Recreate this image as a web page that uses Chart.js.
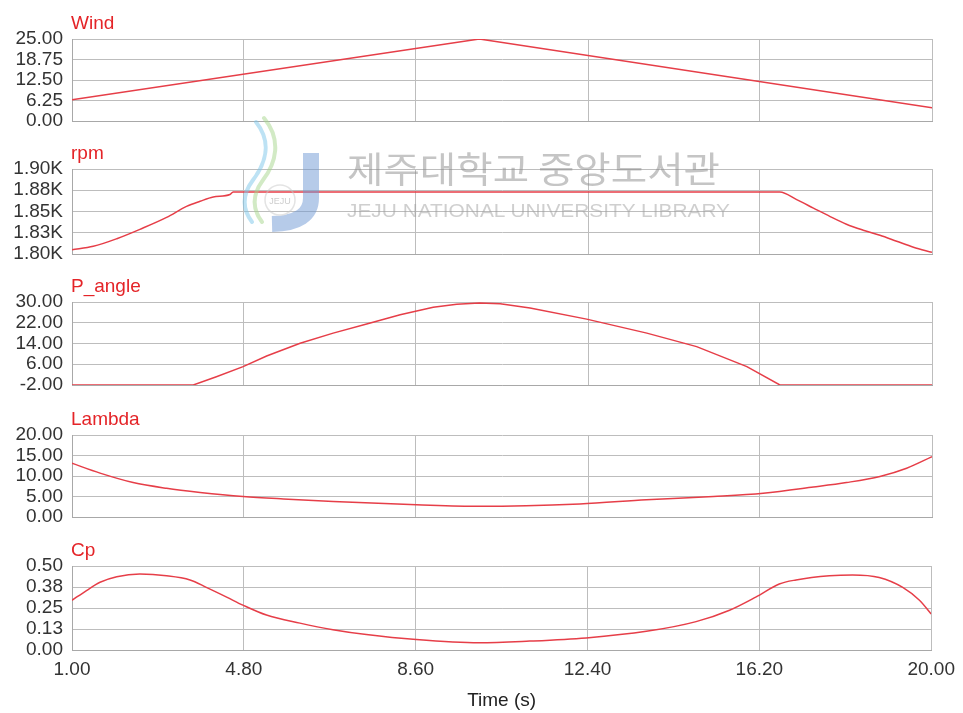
<!DOCTYPE html>
<html>
<head>
<meta charset="utf-8">
<script src="https://cdn.jsdelivr.net/npm/chart.js@4/dist/chart.umd.min.js"></script>
<style>
  html, body { margin: 0; padding: 0; background: #fff; }
  #wrap { position: relative; width: 963px; height: 713px; overflow: hidden; }
  #wrap canvas { position: absolute; left: 0; }
  #mark { position: absolute; left: 0; top: 0; pointer-events: none; }
</style>
</head>
<body>
<div id="wrap">
  <canvas id="c0"></canvas>
  <canvas id="c1"></canvas>
  <canvas id="c2"></canvas>
  <canvas id="c3"></canvas>
  <canvas id="c4"></canvas>
  <svg id="mark" width="963" height="713" xmlns="http://www.w3.org/2000/svg">
    <g opacity="0.5">
      <path d="M256,122 C272,142 266,163 253,180 C241,196 243,210 252,222" fill="none" stroke="#7cc6ea" stroke-width="4" stroke-linecap="round"/>
      <path d="M264,118 C282,140 276,163 263,180 C251,196 253,210 262,222" fill="none" stroke="#a6d68c" stroke-width="4" stroke-linecap="round"/>
      <path d="M311,153 L311,198 Q311,223 272,224" fill="none" stroke="#6f97d4" stroke-width="16"/>
      <circle cx="280" cy="200" r="15" fill="none" stroke="#c8c8c8" stroke-width="1.5"/>
      <text x="280" y="204" font-family="Liberation Sans, Arial, sans-serif" font-size="9" fill="#999" text-anchor="middle">JEJU</text>
      <text x="347" y="183" font-family="'Noto Sans CJK KR', sans-serif" font-size="36" fill="#8c8c8c" textLength="373" lengthAdjust="spacingAndGlyphs">제주대학교 중앙도서관</text>
      <text x="347" y="217" font-family="'Liberation Sans', Arial, sans-serif" font-size="19" fill="#a0a0a0" textLength="383" lengthAdjust="spacingAndGlyphs">JEJU NATIONAL UNIVERSITY  LIBRARY</text>
    </g>
  </svg>
</div>
<script>
// Shared time axis
const timeTicks = [1.0, 4.8, 8.6, 12.4, 16.2, 20.0];
const timeTickLabels = ['1.00', '4.80', '8.60', '12.40', '16.20', '20.00'];

// Wind speed
const windTime = [1, 10, 20];
const windSpeed = [6.5, 25, 4];
const windTicks = [0, 6.25, 12.5, 18.75, 25];
const windTickLabels = ['0.00', '6.25', '12.50', '18.75', '25.00'];

// Rotor speed
const rpmTime = [1, 1.47, 1.99, 2.50, 3.09, 3.53, 3.83, 4.12, 4.49, 4.56, 16.64, 17.01, 17.38, 17.75, 18.11, 18.48, 18.85, 19.22, 19.59, 20];
const rpmValues = [1805, 1809, 1818, 1829, 1843, 1856, 1862, 1867, 1870, 1873, 1873, 1864, 1854, 1844, 1835, 1828, 1822, 1815, 1808, 1802];
const rpmTicks = [1800, 1825, 1850, 1875, 1900];
const rpmTickLabels = ['1.80K', '1.83K', '1.85K', '1.88K', '1.90K'];

// Pitch angle
const pitchTime = [1, 3.68, 4.19, 4.78, 5.30, 6.04, 6.77, 7.51, 8.25, 8.98, 9.5, 10.0, 10.46, 11.12, 12.37, 13.70, 14.80, 15.91, 16.64, 20];
const pitchAngle = [-2, -2, 1.2, 5.1, 9.2, 14.1, 18.0, 21.5, 25.1, 28.0, 29.1, 29.6, 29.3, 27.7, 23.4, 18.0, 12.8, 5.1, -2, -2];
const pitchTicks = [-2, 6, 14, 22, 30];
const pitchTickLabels = ['-2.00', '6.00', '14.00', '22.00', '30.00'];

// Tip speed ratio
const lambdaTime = [1, 1.62, 2.35, 3.09, 3.83, 4.78, 5.67, 6.77, 8.61, 10.0, 12.22, 13.69, 15.17, 16.27, 17.38, 18.11, 18.85, 19.44, 20];
const lambdaValues = [13.1, 10.7, 8.4, 7.0, 6.0, 5.0, 4.4, 3.8, 3.0, 2.6, 3.2, 4.2, 5.0, 5.8, 7.3, 8.4, 9.9, 11.9, 14.7];
const lambdaTicks = [0, 5, 10, 15, 20];
const lambdaTickLabels = ['0.00', '5.00', '10.00', '15.00', '20.00'];

// Power coefficient
const cpTime = [1, 1.32, 1.62, 1.99, 2.50, 3.09, 3.61, 3.97, 4.42, 4.78, 5.30, 6.04, 6.77, 7.51, 8.61, 10.0, 11.12, 12.37, 13.70, 14.80, 15.54, 16.12, 16.64, 17.01, 17.75, 18.26, 18.85, 19.37, 19.74, 20];
const cpValues = [0.296, 0.354, 0.403, 0.436, 0.452, 0.442, 0.417, 0.373, 0.315, 0.267, 0.208, 0.160, 0.121, 0.092, 0.062, 0.043, 0.053, 0.072, 0.111, 0.169, 0.237, 0.315, 0.393, 0.417, 0.442, 0.447, 0.432, 0.373, 0.296, 0.214];
const cpTicks = [0, 0.125, 0.25, 0.375, 0.5];
const cpTickLabels = ['0.00', '0.13', '0.25', '0.38', '0.50'];

// smooth: monotone cubic through the samples; otherwise straight segments
const panels = [
  { id: 'c0', title: 'Wind',    t: windTime,   v: windSpeed,    ticks: windTicks,   labels: windTickLabels,   smooth: false },
  { id: 'c1', title: 'rpm',     t: rpmTime,    v: rpmValues,    ticks: rpmTicks,    labels: rpmTickLabels,    smooth: true },
  { id: 'c2', title: 'P_angle', t: pitchTime,  v: pitchAngle,   ticks: pitchTicks,  labels: pitchTickLabels,  smooth: false },
  { id: 'c3', title: 'Lambda',  t: lambdaTime, v: lambdaValues, ticks: lambdaTicks, labels: lambdaTickLabels, smooth: true },
  { id: 'c4', title: 'Cp',      t: cpTime,     v: cpValues,     ticks: cpTicks,     labels: cpTickLabels,     smooth: true }
];

// Plot-area frame of each strip (page pixels)
const frameTop = [39, 169, 302, 435, 566];
const frameBottom = [121, 254, 385, 517, 650];
const PAGE_H = 713;
const LEFT = 72, RIGHT_PAD = 31, TOP_PAD = 32, BOTTOM_PAD = 24;

const FONT = "'Liberation Sans', Arial, sans-serif";
const LINE_RED = 'rgb(230, 62, 72)';
const TITLE_RED = 'rgb(228, 36, 40)';
const GRID = '#bdbdbd';

// Draws the red series name just above the plot frame
const stripTitle = {
  id: 'stripTitle',
  afterDraw(chart, args, opts) {
    const { ctx, chartArea } = chart;
    ctx.save();
    ctx.font = '19px ' + FONT;
    ctx.fillStyle = TITLE_RED;
    ctx.textAlign = 'left';
    ctx.textBaseline = 'alphabetic';
    ctx.fillText(opts.text, chartArea.left - 1, chartArea.top - 10);
    ctx.restore();
  }
};

panels.forEach((p, i) => {
  const last = i === panels.length - 1;
  const canvas = document.getElementById(p.id);
  const top = frameTop[i] - TOP_PAD;
  const plotH = frameBottom[i] - frameTop[i];
  const bottomSpace = last ? PAGE_H - frameBottom[i] : BOTTOM_PAD;
  canvas.width = 963;
  canvas.height = TOP_PAD + plotH + bottomSpace;
  canvas.style.top = top + 'px';

  new Chart(canvas, {
    type: 'line',
    data: {
      datasets: [{
        data: p.t.map((t, k) => ({ x: t, y: p.v[k] })),
        borderColor: LINE_RED,
        borderWidth: 1.5,
        pointRadius: 0,
        tension: 0,
        cubicInterpolationMode: p.smooth ? 'monotone' : 'default',
        fill: false
      }]
    },
    options: {
      responsive: false,
      animation: false,
      events: [],
      layout: { padding: { top: TOP_PAD, right: RIGHT_PAD, bottom: last ? 0 : BOTTOM_PAD, left: 0 } },
      plugins: {
        legend: { display: false },
        tooltip: { enabled: false },
        stripTitle: { text: p.title }
      },
      scales: {
        x: {
          type: 'linear',
          min: timeTicks[0],
          max: timeTicks[timeTicks.length - 1],
          afterBuildTicks: (s) => { s.ticks = timeTicks.map(v => ({ value: v })); },
          afterFit: (s) => { s.height = last ? PAGE_H - frameBottom[i] : 0; },
          grid: { color: GRID, lineWidth: 1, drawTicks: false },
          border: { color: '#a8a8a8', width: 1 },
          ticks: {
            display: last,
            autoSkip: false,
            maxRotation: 0,
            padding: 8,
            color: '#333',
            font: { family: FONT, size: 19 },
            callback: (val, idx) => timeTickLabels[idx]
          },
          title: {
            display: last,
            text: 'Time (s)',
            color: '#222',
            font: { family: FONT, size: 19 },
            padding: { top: 0, bottom: 1 }
          }
        },
        y: {
          type: 'linear',
          min: p.ticks[0],
          max: p.ticks[p.ticks.length - 1],
          afterBuildTicks: (s) => { s.ticks = p.ticks.map(v => ({ value: v })); },
          afterFit: (s) => { s.width = LEFT; },
          grid: { color: GRID, lineWidth: 1, drawTicks: false },
          border: { color: '#a8a8a8', width: 1 },
          ticks: {
            autoSkip: false,
            padding: 9,
            color: '#333',
            font: { family: FONT, size: 19 },
            callback: (val, idx) => p.labels[idx]
          }
        }
      }
    },
    plugins: [stripTitle]
  });
});
</script>
</body>
</html>
